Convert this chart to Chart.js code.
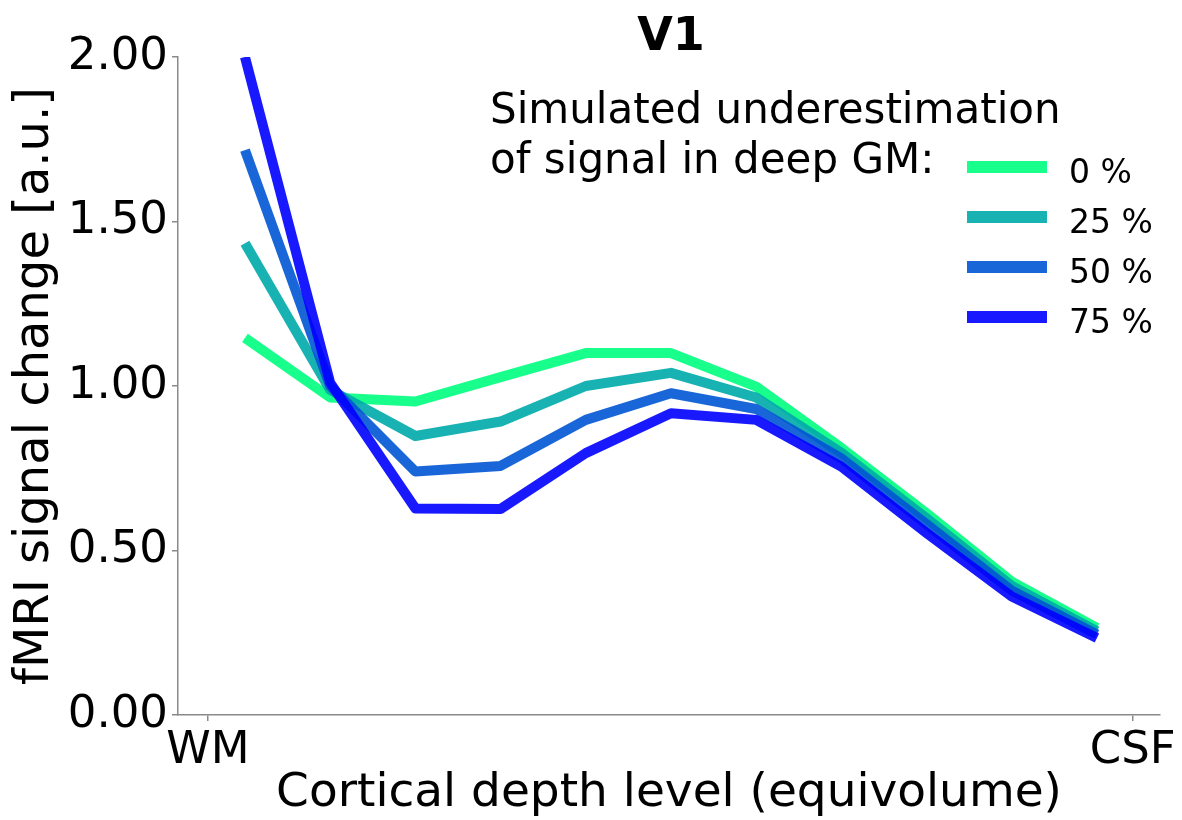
<!DOCTYPE html>
<html>
<head>
<meta charset="utf-8">
<script src="https://cdn.jsdelivr.net/npm/chart.js@4/dist/chart.umd.min.js"></script>
<style>
  html, body { margin: 0; padding: 0; background: #ffffff; }
  #wrap { width: 1182px; height: 820px; position: relative; }
</style>
</head>
<body>
<div id="wrap"><canvas id="c" width="1182" height="820"></canvas></div>
<script>
// ---- data ----
const depthLevels = [1, 2, 3, 4, 5, 6, 7, 8, 9, 10, 11];
const seriesLabels = ['0 %', '25 %', '50 %', '75 %'];
const under0  = [1.146, 0.965, 0.953, 1.027, 1.100, 1.100, 0.998, 0.812, 0.613, 0.405, 0.265];
const under25 = [1.434, 0.988, 0.848, 0.892, 1.000, 1.040, 0.965, 0.797, 0.598, 0.392, 0.255];
const under50 = [1.717, 1.000, 0.740, 0.757, 0.897, 0.978, 0.930, 0.780, 0.580, 0.378, 0.245];
const under75 = [2.000, 1.010, 0.628, 0.626, 0.796, 0.917, 0.897, 0.755, 0.553, 0.360, 0.234];
const xTickLabels = ['WM', 'CSF'];
const xTickPositions = [0.566, 11.42];
const yTicks = [0, 0.5, 1.0, 1.5, 2.0];
const chartTitle = 'V1';
const legendTitle = ['Simulated underestimation', 'of signal in deep GM:'];
const xTitle = 'Cortical depth level (equivolume)';
const yTitle = 'fMRI signal change [a.u.]';

const colors = ['rgba(0,255,128,0.9)', 'rgba(0,170,170,0.9)', 'rgba(0,85,212,0.9)', 'rgba(0,0,255,0.9)'];
const seriesValues = [under0, under25, under50, under75];

const FONT = '"DejaVu Sans", "Liberation Sans", sans-serif';
const AXIS_COLOR = '#8a8a8a';

const datasets = seriesValues.map((vals, i) => ({
  label: seriesLabels[i],
  data: vals.map((v, j) => ({ x: depthLevels[j], y: v })),
  borderColor: colors[i],
  backgroundColor: colors[i],
  borderWidth: 10,
  pointRadius: 0,
  tension: 0,
  fill: false,
  borderCapStyle: 'butt',
  borderJoinStyle: 'round',
  order: seriesValues.length - 1 - i
}));

const overlayPlugin = {
  id: 'overlay',
  afterDraw(chart) {
    const ctx = chart.ctx;
    const ca = chart.chartArea;
    ctx.save();
    // title
    ctx.fillStyle = '#000';
    ctx.font = 'bold 46px ' + FONT;
    ctx.textAlign = 'center';
    ctx.textBaseline = 'alphabetic';
    ctx.fillText(chartTitle, (ca.left + ca.right) / 2 + 2, 50);
    // legend title
    ctx.textAlign = 'left';
    ctx.font = '42px ' + FONT;
    ctx.fillText(legendTitle[0], 490, 123);
    ctx.fillText(legendTitle[1], 490, 173);
    // legend items
    ctx.font = '33px ' + FONT;
    chart.data.datasets.forEach((ds, i) => {
      const y = 167 + 50 * i;
      ctx.strokeStyle = ds.borderColor;
      ctx.lineWidth = 12;
      ctx.lineCap = 'butt';
      ctx.beginPath();
      ctx.moveTo(967, y);
      ctx.lineTo(1047, y);
      ctx.stroke();
      ctx.fillStyle = '#000';
      ctx.fillText(ds.label, 1069, y + 16);
    });
    ctx.restore();
  }
};

new Chart(document.getElementById('c'), {
  type: 'line',
  data: { datasets },
  plugins: [overlayPlugin],
  options: {
    responsive: false,
    animation: false,
    devicePixelRatio: 1,
    layout: { padding: { top: 57, right: 22, left: 0, bottom: 0 } },
    plugins: {
      legend: { display: false },
      title: { display: false },
      tooltip: { enabled: false }
    },
    scales: {
      x: {
        type: 'linear',
        min: 0.214,
        max: 11.74,
        afterBuildTicks(scale) {
          scale.ticks = xTickPositions.map(v => ({ value: v }));
        },
        afterFit(scale) { scale.height = 105; },
        ticks: {
          autoSkip: false,
          maxRotation: 0,
          padding: 3,
          color: '#000',
          font: { family: FONT, size: 45 },
          callback(value) {
            const idx = xTickPositions.indexOf(value);
            return idx >= 0 ? xTickLabels[idx] : '';
          }
        },
        grid: { display: true, drawOnChartArea: false, drawTicks: true, tickLength: 6, color: AXIS_COLOR, lineWidth: 1.5 },
        border: { display: true, color: AXIS_COLOR, width: 1.5 },
        title: { display: true, text: xTitle, color: '#000', font: { family: FONT, size: 47, lineHeight: 1.1 }, padding: { top: 0, bottom: 0 } }
      },
      y: {
        type: 'linear',
        min: 0,
        max: 2,
        afterBuildTicks(scale) {
          scale.ticks = yTicks.map(v => ({ value: v }));
        },
        afterFit(scale) { scale.width = 178; },
        ticks: {
          padding: 4,
          color: '#000',
          font: { family: FONT, size: 45 },
          callback(value) { return Number(value).toFixed(2); }
        },
        grid: { display: true, drawOnChartArea: false, drawTicks: true, tickLength: 6, color: AXIS_COLOR, lineWidth: 1.5 },
        border: { display: true, color: AXIS_COLOR, width: 1.5 },
        title: { display: true, text: yTitle, color: '#000', font: { family: FONT, size: 48, lineHeight: 1.1 }, padding: { top: 9, bottom: 0 } }
      }
    }
  }
});
</script>
</body>
</html>
